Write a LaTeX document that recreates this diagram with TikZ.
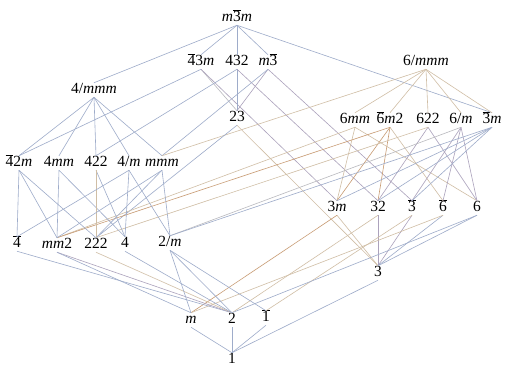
\documentclass[tikz,border=0pt]{standalone}
\usepackage{fontspec}
\setmainfont{Liberation Serif}
\newcommand{\ob}[1]{\ensuremath{\overline{\mbox{#1}}}}
\newcommand{\im}{\textit{m}}
\definecolor{cb}{RGB}{158,172,202}
\definecolor{ct}{RGB}{208,190,165}
\definecolor{co}{RGB}{200,155,115}
\definecolor{cp}{RGB}{172,162,188}
\definecolor{cg}{RGB}{185,185,190}
\begin{document}
\begin{tikzpicture}[x=1pt,y=-1pt,
  grp/.style={font=\fontsize{15.5}{17}\selectfont, inner sep=0pt, text height=9.5pt, text depth=2pt, outer sep=1.5pt},
  e/.style={line width=0.6pt, color=cb}]
\useasboundingbox[fill=white] (0,0) rectangle (507,373);
% nodes
\node[grp] (m3m) at (237,18) {\im\ob{3}\im};
\node[grp] (t43m) at (201,62) {\ob{4}3\im};
\node[grp] (o432) at (237,62) {432};
\node[grp] (m3) at (268,62) {\im\ob{3}};
\node[grp] (t4mmm) at (94,90) {4/\im\im\im};
\node[grp] (h6mmm) at (426,62) {6/\im\im\im};
\node[grp] (c23) at (237,118) {23};
\node[grp] (h6mm) at (355,120) {6\im\im};
\node[grp] (h6m2) at (390,120) {\ob{6}\im2};
\node[grp] (h622) at (428,120) {622};
\node[grp] (h6m) at (461,120) {6/\im};
\node[grp] (h3m) at (492,120) {\ob{3}\im};
\node[grp] (t42m) at (19,163) {\ob{4}2\im};
\node[grp] (t4mm) at (59,163) {4\im\im};
\node[grp] (t422) at (96,163) {422};
\node[grp] (t4m) at (129,163) {4/\im};
\node[grp] (mmm) at (162,163) {\im\im\im};
\node[grp] (r3m) at (337,208) {3\im};
\node[grp] (r32) at (378,208) {32};
\node[grp] (r3b) at (412,208) {\ob{3}};
\node[grp] (r6b) at (443,208) {\ob{6}};
\node[grp] (r6) at (477,208) {6};
\node[grp] (t4b) at (17,244) {\ob{4}};
\node[grp] (mm2) at (57,245) {\im\im2};
\node[grp] (o222) at (96,245) {222};
\node[grp] (t4) at (125,244) {4};
\node[grp] (m2) at (170,243) {2/\im};
\node[grp] (r3) at (378,273) {3};
\node[grp] (mm) at (191,320) {\im};
\node[grp] (two) at (232,320) {2};
\node[grp] (o1b) at (266,318) {\ob{1}};
\node[grp] (one) at (232,360) {1};
% edges
\foreach \a/\b/\c in {
 m3m/t43m/cb, m3m/o432/cb, m3m/m3/cb, m3m/t4mmm/cb, m3m/h3m/cb,
 t43m/c23/cg, t43m/t42m/cb, t43m/r3m/cp,
 o432/c23/cb, o432/t422/cb, o432/r32/cp,
 m3/c23/cp, m3/mmm/cb, m3/r3b/cp,
 t4mmm/t42m/cb, t4mmm/t4mm/cb, t4mmm/t422/cb, t4mmm/t4m/cb, t4mmm/mmm/cb,
 h6mmm/h6mm/ct, h6mmm/h6m2/ct, h6mmm/h622/ct, h6mmm/h6m/ct, h6mmm/h3m/ct, h6mmm/mmm/ct,
 c23/o222/cb, c23/r3/ct,
 h6mm/r6/ct, h6mm/r3m/ct, h6mm/mm2/ct,
 h6m2/r6b/ct, h6m2/r3m/co, h6m2/r32/co, h6m2/mm2/co,
 h622/r6/cp, h622/r32/cp, h622/o222/ct,
 h6m/r6/cp, h6m/r6b/cp, h6m/r3b/cp, h6m/m2/cg,
 h3m/r3b/cb, h3m/r3m/cb, h3m/r32/cb, h3m/m2/cb,
 t42m/t4b/cb, t42m/o222/cb, t42m/mm2/cb,
 t4mm/t4/cb, t4mm/mm2/cb,
 t422/t4/cb, t422/o222/ct,
 t4m/t4/cb, t4m/t4b/cb, t4m/m2/cb,
 mmm/o222/cb, mmm/mm2/cb, mmm/m2/cb,
 r3m/r3/ct, r3m/mm/co,
 r32/r3/cp, r32/two/ct,
 r3b/r3/cp, r3b/o1b/ct,
 r6b/r3/cb, r6b/mm/ct,
 r6/r3/cb, r6/two/cb,
 t4b/two/cb, mm2/two/cp, mm2/mm/cb, o222/two/ct, t4/two/cb,
 m2/two/cb, m2/mm/cb, m2/o1b/cb,
 r3/one/cb, mm/one/cb, two/one/cb, o1b/one/cb}
 \draw[e, color=\c] (\a.south) -- (\b.north);
\end{tikzpicture}
\end{document}
